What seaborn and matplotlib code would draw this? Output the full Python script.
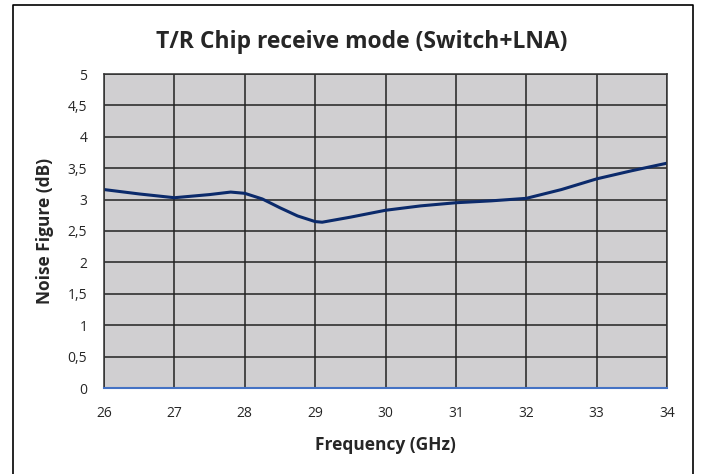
import numpy as np
import pandas as pd
import matplotlib
matplotlib.use('Agg')
import matplotlib.pyplot as plt
import seaborn as sns

# values
freq_ghz = [26, 26.5, 27, 27.5, 27.8, 28, 28.25, 28.5, 28.75, 29, 29.1, 29.5, 30,
            30.5, 31, 31.5, 32, 32.5, 33, 33.5, 34]
noise_db = [3.16, 3.09, 3.03, 3.08, 3.12, 3.10, 3.01, 2.87, 2.74, 2.65, 2.64, 2.72, 2.83,
            2.90, 2.95, 2.98, 3.02, 3.16, 3.33, 3.46, 3.58]
x_ticks = [26, 27, 28, 29, 30, 31, 32, 33, 34]
y_ticks = [0, 0.5, 1, 1.5, 2, 2.5, 3, 3.5, 4, 4.5, 5]
y_labels = ['0', '0,5', '1', '1,5', '2', '2,5', '3', '3,5', '4', '4,5', '5']

df = pd.DataFrame({'Frequency': freq_ghz, 'NF': noise_db})

sns.set_style('white')
plt.rcParams['font.family'] = ['Open Sans', 'DejaVu Sans']

fig = plt.figure(figsize=(7.01, 4.74), dpi=100)
ax = fig.add_axes([104 / 701, 1 - 388 / 474, (667 - 104) / 701, (388 - 74) / 474])

# outer chart border (open at the bottom like the cropped original)
fig.add_artist(plt.Line2D([13 / 701, 13 / 701, 693 / 701, 693 / 701],
                          [0, 1 - 5 / 474, 1 - 5 / 474, 0],
                          transform=fig.transFigure, color='black', lw=1.2))

ax.set_facecolor('#d0cfd1')
sns.lineplot(data=df, x='Frequency', y='NF', ax=ax, color='#0b2a6b', lw=2.2, sort=True)

ax.set_xlim(26, 34)
ax.set_ylim(0, 5)
ax.set_xticks(x_ticks)
ax.set_yticks(y_ticks)
ax.set_yticklabels(y_labels)
ax.grid(True, color='#222222', lw=1.1)
ax.set_axisbelow(True)
ax.tick_params(axis='x', length=0, labelsize=10, pad=13)
ax.tick_params(axis='y', length=0, labelsize=10, pad=12)
for side in ['top', 'left', 'right']:
    ax.spines[side].set_color('#333333')
    ax.spines[side].set_linewidth(1.1)
ax.spines['bottom'].set_color('#4472c4')
ax.spines['bottom'].set_linewidth(1.5)

ax.set_xlabel('Frequency (GHz)', fontsize=12.5, fontweight='bold', labelpad=11)
ax.set_ylabel('Noise Figure (dB)', fontsize=12.5, fontweight='bold', labelpad=10)
fig.text(362 / 701, 1 - 42 / 474, 'T/R Chip receive mode (Switch+LNA)',
         ha='center', va='center', fontsize=16.5, fontweight='bold')

fig.savefig('out.png', dpi=100)
